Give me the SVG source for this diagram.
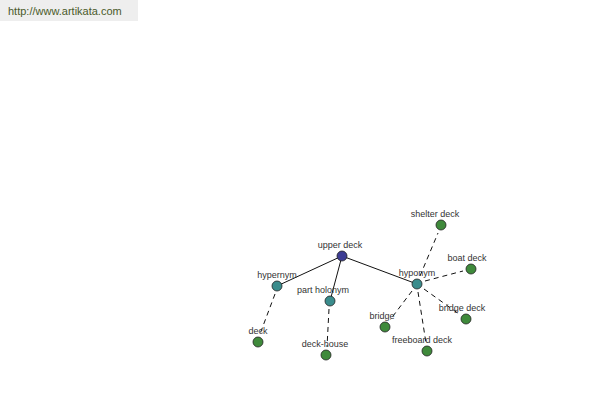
<svg xmlns="http://www.w3.org/2000/svg" width="600" height="400" viewBox="0 0 600 400">
<style>
text{font-family:"Liberation Sans",Arial,sans-serif;font-size:9px;fill:#333;text-anchor:middle}
.s{stroke:#111;stroke-width:1;fill:none}
.d{stroke:#111;stroke-width:1;stroke-dasharray:5,4;fill:none}
.n{stroke:#222;stroke-width:0.8}
.root{fill:#3d3d94}
.mid{fill:#3a8c8c}
.leaf{fill:#3f8a3b}
</style>
<rect x="0" y="0" width="138" height="21" fill="#eeeeee"/>
<text x="8" y="15" style="text-anchor:start;font-size:11px;fill:#4a5a2a">http://www.artikata.com</text>
<g id="connectors">
<line class="s" x1="342" y1="256" x2="277" y2="286"/>
<line class="s" x1="342" y1="256" x2="330" y2="301"/>
<line class="s" x1="342" y1="256" x2="417" y2="284"/>
<line class="d" x1="275" y1="294" x2="260" y2="334"/>
<line class="d" x1="329" y1="309" x2="327" y2="347"/>
<line class="d" x1="420" y1="276" x2="438" y2="233"/>
<line class="d" x1="425" y1="281" x2="463" y2="271"/>
<line class="d" x1="424" y1="289" x2="459" y2="314"/>
<line class="d" x1="418" y1="292" x2="426" y2="343"/>
<line class="d" x1="412" y1="291" x2="390" y2="320"/>
</g>
<g id="upper-deck"><circle class="n root" cx="342" cy="256" r="5"/><text x="340" y="248">upper deck</text></g>
<g id="hypernym"><circle class="n mid" cx="277" cy="286" r="5"/><text x="277" y="278">hypernym</text></g>
<g id="part-holonym"><circle class="n mid" cx="330" cy="301" r="5"/><text x="323" y="293">part holonym</text></g>
<g id="hyponym"><circle class="n mid" cx="417" cy="284" r="5"/><text x="417" y="276">hyponym</text></g>
<g id="deck"><circle class="n leaf" cx="258" cy="342" r="5"/><text x="258" y="334">deck</text></g>
<g id="deck-house"><circle class="n leaf" cx="326" cy="355" r="5"/><text x="325" y="347">deck-house</text></g>
<g id="shelter-deck"><circle class="n leaf" cx="441" cy="225" r="5"/><text x="435" y="217">shelter deck</text></g>
<g id="boat-deck"><circle class="n leaf" cx="471" cy="269" r="5"/><text x="467" y="261">boat deck</text></g>
<g id="bridge-deck"><circle class="n leaf" cx="466" cy="319" r="5"/><text x="462" y="311">bridge deck</text></g>
<g id="freeboard-deck"><circle class="n leaf" cx="427" cy="351" r="5"/><text x="422" y="343">freeboard deck</text></g>
<g id="bridge"><circle class="n leaf" cx="385" cy="327" r="5"/><text x="382" y="319">bridge</text></g>
</svg>
